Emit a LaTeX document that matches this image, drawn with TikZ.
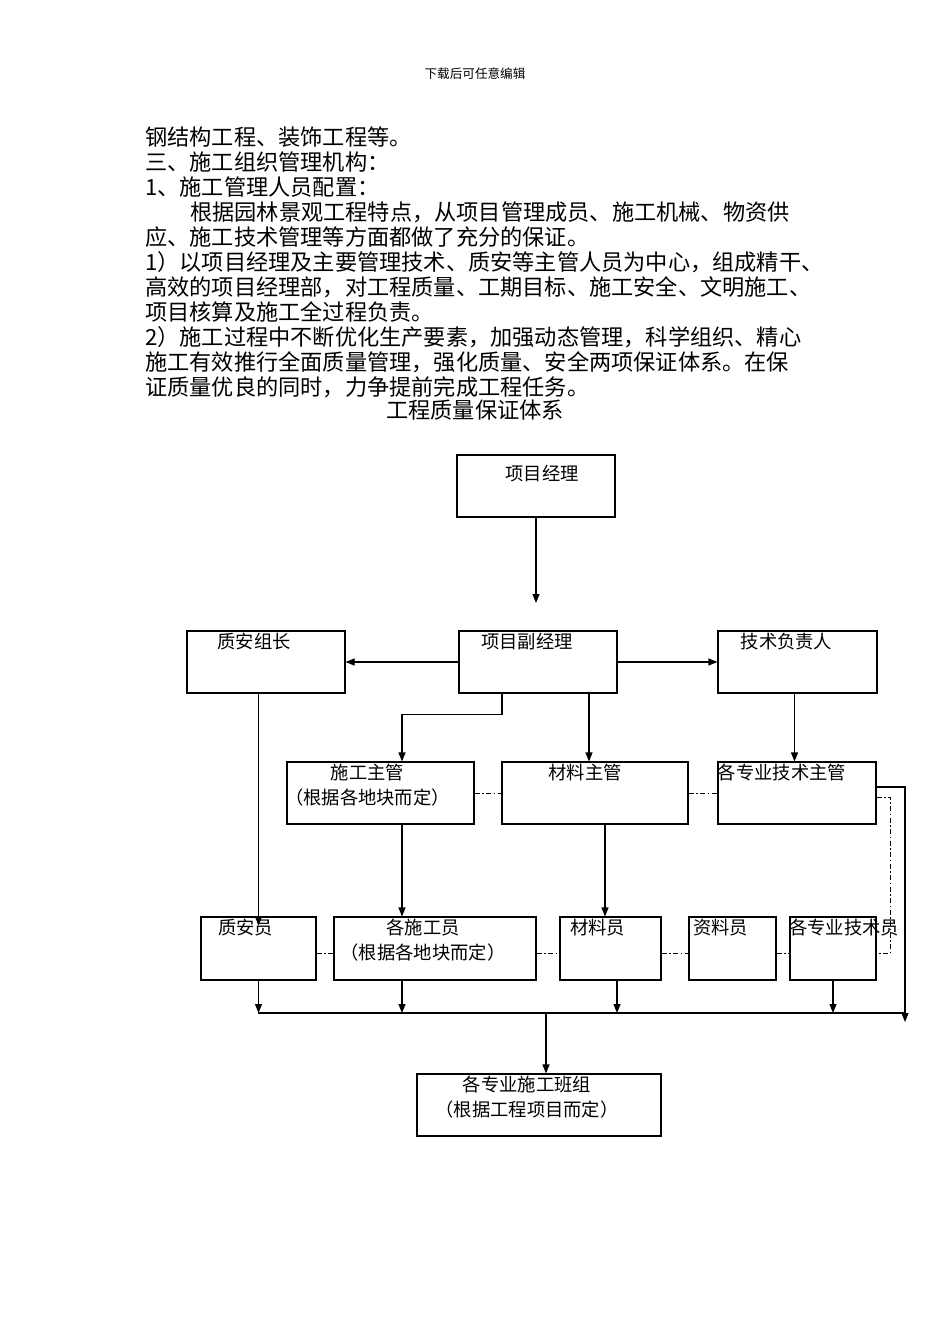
\documentclass[tikz,border=0pt]{standalone}
\usepackage{fontspec}
\setmainfont{Noto Sans CJK SC}
\usepackage{tikz}
\usetikzlibrary{arrows.meta}

\begin{document}
\begin{tikzpicture}[x=1pt,y=-1pt,
box/.style={draw,line width=1.1pt,inner sep=0pt},
lbl/.style={font=\fontsize{18.3}{25}\selectfont,align=center,inner sep=2pt,anchor=north},
hd/.style 2 args={label={[lbl,xshift=#1pt]north:#2}},
sz/.style 2 args={minimum width=#1pt,minimum height=#2pt},
arr/.style={line width=1.1pt,-{Triangle[length=9pt,width=7pt]}},
ln/.style={line width=1.1pt},
dd/.style={line width=0.9pt,dash pattern=on 5pt off 2.5pt on 1.5pt off 2.5pt}]
\useasboundingbox (0,0) rectangle (950,1344);
\node[font=\fontsize{12.6}{14}\selectfont] (hdr) at (475,74) {下载后可任意编辑};
\node[anchor=north west,inner sep=0pt,align=left,font=\fontsize{22.2}{25}\selectfont] (body) at (145,127) {钢结构工程、装饰工程等。\\
三、施工组织管理机构：\\
1、施工管理人员配置：\\
\hspace*{45pt}根据园林景观工程特点，从项目管理成员、施工机械、物资供\\
应、施工技术管理等方面都做了充分的保证。\\
1）以项目经理及主要管理技术、质安等主管人员为中心，组成精干、\\
高效的项目经理部，对工程质量、工期目标、施工安全、文明施工、\\
项目核算及施工全过程负责。\\
2）施工过程中不断优化生产要素，加强动态管理，科学组织、精心\\
施工有效推行全面质量管理，强化质量、安全两项保证体系。在保\\
证质量优良的同时，力争提前完成工程任务。};
\node[font=\fontsize{22.2}{25}\selectfont] (ttl) at (475,410) {工程质量保证体系};

\node[box,sz={158}{62},label={[lbl,xshift=6pt,yshift=-8pt]north:项目经理}] (pm) at (536,486) {};
\node[box,sz={158}{62},hd={-12}{质安组长}] (qazz) at (266,662) {};
\node[box,sz={158}{62},hd={-11}{项目副经理}] (dpm) at (538,662) {};
\node[box,sz={159}{62},hd={-11}{技术负责人}] (jsfz) at (797.5,662) {};
\node[box,sz={187}{62},hd={-13}{施工主管\\（根据各地块而定）}] (sgzg) at (380.5,793) {};
\node[box,sz={186}{62},hd={-10}{材料主管}] (clzg) at (595,793) {};
\node[box,sz={158}{62},hd={-15}{各专业技术主管}] (jszg) at (797,793) {};
\node[box,sz={115}{63},hd={-13}{质安员}] (qay) at (258.5,948.5) {};
\node[box,sz={202}{63},hd={-12}{各施工员\\（根据各地块而定）}] (sgy) at (435,948.5) {};
\node[box,sz={101}{63},hd={-13}{材料员}] (cly) at (610.5,948.5) {};
\node[box,sz={87}{63},hd={-12}{资料员}] (zly) at (732.5,948.5) {};
\node[box,sz={86}{63},hd={11}{各专业技术员}] (jsy) at (833,948.5) {};
\node[box,sz={244}{62},hd={-12}{各专业施工班组\\（根据工程项目而定）}] (bz) at (539,1105) {};

\coordinate (pmend) at (536,603);
\coordinate (busl) at (258,1013);
\coordinate (busr) at (905,1013);
\coordinate (rend) at (905,1022);

\draw[arr] (pm.south) -- (pmend);
\draw[arr] (dpm.west) -- (qazz.east);
\draw[arr] (dpm.east) -- (jsfz.west);
\draw[arr] ([xshift=-36pt]dpm.south) -- ++(0,21) -| ([xshift=21.5pt]sgzg.north);
\draw[arr] ([xshift=51pt]dpm.south) -- ([xshift=51pt]dpm.south |- clzg.north);
\draw[arr] ([xshift=-3pt]jsfz.south) -- ([xshift=-3pt]jsfz.south |- jszg.north);
\draw[arr] (qay.north |- qazz.south) -- ([yshift=-9pt]qay.north);
\draw[arr] ([xshift=21.5pt]sgzg.south) -- ([xshift=21.5pt]sgzg.south |- sgy.north);
\draw[arr] ([xshift=10pt]clzg.south) -- ([xshift=10pt]clzg.south |- cly.north);
\draw[arr] ([yshift=6pt]jszg.east) -| (rend);

\draw[dd] (sgzg.east) -- (clzg.west);
\draw[dd] (clzg.east) -- (jszg.west);
\draw[dd] ([yshift=-4pt]jszg.east) -- ++(14,0) |- ([yshift=-4.5pt]jsy.east);
\draw[dd] ([yshift=-4.5pt]qay.east) -- ([yshift=-4.5pt]sgy.west);
\draw[dd] ([yshift=-4.5pt]sgy.east) -- ([yshift=-4.5pt]cly.west);
\draw[dd] ([yshift=-4.5pt]cly.east) -- ([yshift=-4.5pt]zly.west);
\draw[dd] ([yshift=-4.5pt]zly.east) -- ([yshift=-4.5pt]jsy.west);

\draw[ln] (busl) -- (busr);
\draw[arr] (qay.south) -- (qay.south |- busl);
\draw[arr] ([xshift=-33pt]sgy.south) -- ([xshift=-33pt]sgy.south |- busl);
\draw[arr] ([xshift=6.5pt]cly.south) -- ([xshift=6.5pt]cly.south |- busl);
\draw[arr] (jsy.south) -- (jsy.south |- busl);
\draw[arr] ([xshift=7pt]bz.north |- busl) -- ([xshift=7pt]bz.north);
\end{tikzpicture}
\end{document}
